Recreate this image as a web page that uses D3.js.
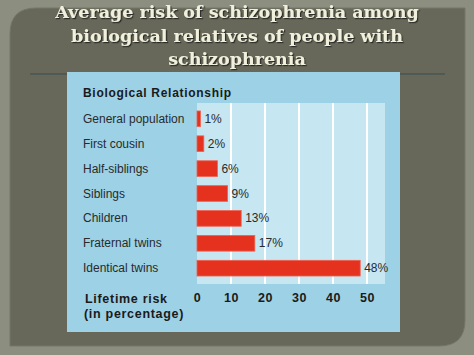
<!DOCTYPE html>
<html><head><meta charset="utf-8">
<script src="https://cdn.jsdelivr.net/npm/d3@7"></script>
<style>html,body{margin:0;padding:0;background:#8c8e80;}svg{display:block;}</style>
</head><body>
<script>
const titleLines = ["Average risk of schizophrenia among", "biological relatives of people with", "schizophrenia"];
const categories = ["General population", "First cousin", "Half-siblings", "Siblings", "Children", "Fraternal twins", "Identical twins"];
const values = [1, 2, 6, 9, 13, 17, 48];
const ticks = [0, 10, 20, 30, 40, 50];

const W = 474, H = 355;
const svg = d3.select("body").append("svg").attr("width", W).attr("height", H);

const defs = svg.append("defs");
const f = defs.append("filter").attr("id", "shadow").attr("x", "-5%").attr("y", "-20%").attr("width", "110%").attr("height", "150%");
f.append("feDropShadow").attr("dx", 1.2).attr("dy", 1.2).attr("stdDeviation", 0.6)
  .attr("flood-color", "#22231c").attr("flood-opacity", 0.85);

svg.append("rect").attr("width", W).attr("height", H).attr("fill", "#8c8e80");

// dark panel with rounded top-left and bottom-right corners
const px0 = 10, py0 = 8, px1 = 465, py1 = 346, r = 26;
svg.append("path")
  .attr("d", `M${px0},${py0 + r} Q${px0},${py0} ${px0 + r},${py0} L${px1},${py0} L${px1},${py1 - r} Q${px1},${py1} ${px1 - r},${py1} L${px0},${py1} Z`)
  .attr("fill", "#676859").attr("stroke", "#74766a").attr("stroke-width", 1);

// separator line
svg.append("line").attr("x1", 30).attr("x2", 445).attr("y1", 74).attr("y2", 74)
  .attr("stroke", "#4f5a55").attr("stroke-width", 2);

// title
const tg = svg.append("g").attr("font-family", "'DejaVu Serif', serif").attr("font-weight", "bold")
  .attr("font-size", 17.5).attr("text-anchor", "middle").attr("filter", "url(#shadow)");
titleLines.forEach((t, i) => {
  tg.append("text").attr("x", 237).attr("y", 18 + i * 23.5).attr("fill", "#f1f0dc").text(t);
});

// blue chart panel
svg.append("rect").attr("x", 67).attr("y", 72).attr("width", 333).attr("height", 260).attr("fill", "#9dd1e5");

const x = d3.scaleLinear().domain([0, 50]).range([197, 367]);
const y = d3.scaleBand().domain(categories).range([106.5, 280.5]).paddingInner(0.37).paddingOuter(0.18);

// plot background
svg.append("rect").attr("x", 197).attr("y", 103).attr("width", 188).attr("height", 181).attr("fill", "#c6e6f1");

// grid lines
svg.append("g").selectAll("line").data(ticks.filter(t => t > 0)).join("line")
  .attr("x1", d => x(d)).attr("x2", d => x(d)).attr("y1", 103).attr("y2", 284)
  .attr("stroke", "#ffffff").attr("stroke-width", 2);

svg.append("text").attr("x", 83).attr("y", 97).attr("font-family", "'Liberation Sans', Arial, sans-serif")
  .attr("font-weight", "bold").attr("font-size", 12).attr("letter-spacing", 0.7).attr("fill", "#1a1a1a").text("Biological Relationship");

// category labels
svg.append("g").selectAll("text").data(categories).join("text")
  .attr("x", 83).attr("y", d => y(d) + y.bandwidth() / 2 + 4)
  .attr("font-family", "'Liberation Sans', Arial, sans-serif").attr("font-size", 12).attr("fill", "#2a2a2a")
  .text(d => d);

// bars
svg.append("g").selectAll("rect").data(values).join("rect")
  .attr("x", x(0)).attr("y", (d, i) => y(categories[i]))
  .attr("width", d => x(d) - x(0)).attr("height", y.bandwidth())
  .attr("fill", "#e5321f").attr("stroke", "#f0604f").attr("stroke-width", 0.8);

// value labels
svg.append("g").selectAll("text").data(values).join("text")
  .attr("x", d => x(d) + 4).attr("y", (d, i) => y(categories[i]) + y.bandwidth() / 2 + 4)
  .attr("font-family", "'Liberation Sans', Arial, sans-serif").attr("font-size", 12).attr("fill", "#2a2a2a")
  .text(d => d + "%");

// x axis tick labels
const ax = svg.append("g").attr("transform", "translate(0,302)")
  .call(d3.axisBottom(x).tickValues(ticks).tickSize(0).tickPadding(0));
ax.select(".domain").remove();
ax.selectAll("text").attr("font-family", "'Liberation Sans', Arial, sans-serif").attr("font-weight", "bold")
  .attr("font-size", 12.5).attr("letter-spacing", 0.5).attr("fill", "#1a1a1a").attr("dy", 0);

svg.append("text").attr("x", 85).attr("y", 303).attr("font-family", "'Liberation Sans', Arial, sans-serif")
  .attr("font-weight", "bold").attr("font-size", 12.5).attr("letter-spacing", 0.7).attr("fill", "#1a1a1a").text("Lifetime risk");
svg.append("text").attr("x", 84).attr("y", 318).attr("font-family", "'Liberation Sans', Arial, sans-serif")
  .attr("font-weight", "bold").attr("font-size", 12.5).attr("letter-spacing", 0.7).attr("fill", "#1a1a1a").text("(in percentage)");
</script>
</body></html>
